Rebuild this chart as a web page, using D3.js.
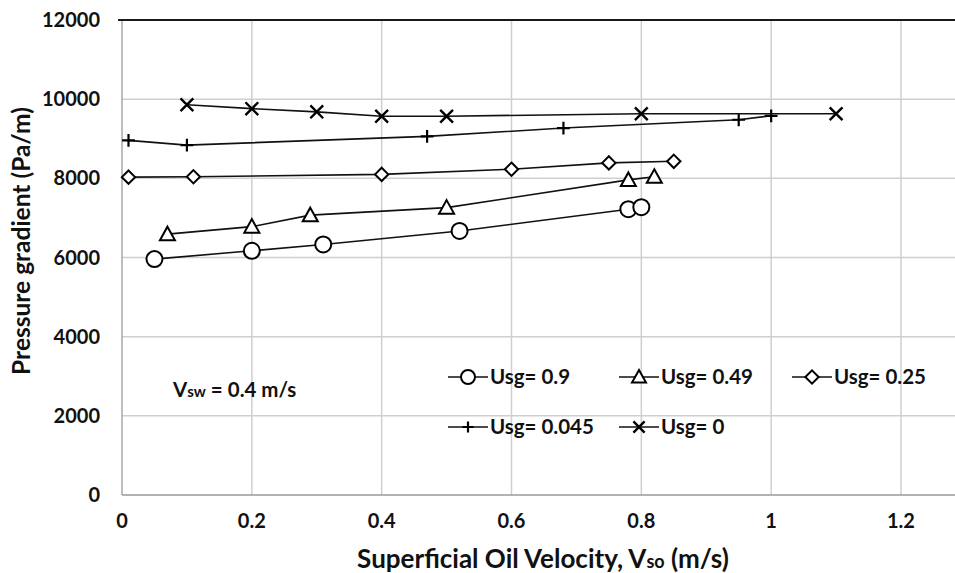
<!DOCTYPE html>
<html>
<head>
<meta charset="utf-8" />
<title>Pressure gradient vs superficial oil velocity</title>
<script src="https://cdn.jsdelivr.net/npm/d3@7"></script>
<style>
  body { margin: 0; background: #fff; }
  text { font-family: Lato, "Open Sans", sans-serif; font-weight: bold; fill: #111; }
</style>
</head>
<body>
<div id="chart"></div>
<script>
// data
var xTicks = [0, 0.2, 0.4, 0.6, 0.8, 1, 1.2];
var yTicks = [0, 2000, 4000, 6000, 8000, 10000, 12000];

var usg090 = [[0.05, 5960], [0.2, 6170], [0.31, 6330], [0.52, 6670], [0.78, 7220], [0.8, 7270]];
var usg049 = [[0.07, 6590], [0.2, 6780], [0.29, 7070], [0.5, 7260], [0.78, 7960], [0.82, 8040]];
var usg025 = [[0.01, 8030], [0.11, 8040], [0.4, 8100], [0.6, 8230], [0.75, 8390], [0.85, 8430]];
var usg0045 = [[0.01, 8960], [0.1, 8840], [0.47, 9060], [0.68, 9270], [0.95, 9480], [1.0, 9580]];
var usg0 = [[0.1, 9860], [0.2, 9760], [0.3, 9680], [0.4, 9570], [0.5, 9570], [0.8, 9630], [1.1, 9630]];

var seriesNames = ["Usg= 0.9", "Usg= 0.49", "Usg= 0.25", "Usg= 0.045", "Usg= 0"];
var seriesData = [usg090, usg049, usg025, usg0045, usg0];
var seriesMarks = ["circle", "triangle", "diamond", "plus", "cross"];

var W = 955, H = 573;

var svg = d3.select("#chart").append("svg")
    .attr("width", W)
    .attr("height", H);

var x = d3.scaleLinear().domain([0, 1.2]).range([122, 901]);
var y = d3.scaleLinear().domain([0, 12000]).range([495, 20]);

// gridlines
svg.append("g").selectAll("line")
    .data(xTicks.slice(1))
    .enter().append("line")
    .attr("x1", function (d) { return x(d); })
    .attr("x2", function (d) { return x(d); })
    .attr("y1", y(12000))
    .attr("y2", y(0))
    .attr("stroke", "#cfcfcf")
    .attr("stroke-width", 1.5);

svg.append("g").selectAll("line")
    .data(yTicks.slice(1, -1))
    .enter().append("line")
    .attr("x1", x(0))
    .attr("x2", W)
    .attr("y1", function (d) { return y(d); })
    .attr("y2", function (d) { return y(d); })
    .attr("stroke", "#cfcfcf")
    .attr("stroke-width", 1.5);

// left axis, bottom axis, dark top line
svg.append("line")
    .attr("x1", x(0)).attr("x2", x(0))
    .attr("y1", y(12000)).attr("y2", y(0))
    .attr("stroke", "#a8a8a8").attr("stroke-width", 1.5);
svg.append("line")
    .attr("x1", x(0)).attr("x2", W)
    .attr("y1", y(0)).attr("y2", y(0))
    .attr("stroke", "#9a9a9a").attr("stroke-width", 1.5);
svg.append("line")
    .attr("x1", x(0) - 4).attr("x2", W)
    .attr("y1", y(12000)).attr("y2", y(12000))
    .attr("stroke", "#1a1a1a").attr("stroke-width", 2);

// tick labels
svg.append("g").selectAll("text")
    .data(yTicks)
    .enter().append("text")
    .attr("x", 100)
    .attr("y", function (d) { return y(d) + 7; })
    .attr("text-anchor", "end")
    .style("font-size", "20px")
    .text(function (d) { return d; });

svg.append("g").selectAll("text")
    .data(xTicks)
    .enter().append("text")
    .attr("x", function (d) { return x(d); })
    .attr("y", 528)
    .attr("text-anchor", "middle")
    .style("font-size", "20px")
    .text(function (d) { return d; });

// axis titles
svg.append("text")
    .attr("transform", "translate(30,241) rotate(-90)")
    .attr("text-anchor", "middle")
    .style("font-size", "24.5px")
    .text("Pressure gradient (Pa/m)");

var xt = svg.append("text")
    .attr("x", 543)
    .attr("y", 568)
    .attr("text-anchor", "middle")
    .style("font-size", "26px");
xt.append("tspan").text("Superficial Oil Velocity, V");
xt.append("tspan").style("font-size", "18px").text("so");
xt.append("tspan").text(" (m/s)");

// markers
function drawMarker(g, kind, s) {
    var r = s / 2;
    if (kind === "circle") {
        g.append("circle").attr("r", r).attr("fill", "#fff").attr("stroke", "#000").attr("stroke-width", 2);
    } else if (kind === "triangle") {
        g.append("path")
            .attr("d", "M0," + (-r) + "L" + r + "," + (r * 0.8) + "L" + (-r) + "," + (r * 0.8) + "Z")
            .attr("fill", "#fff").attr("stroke", "#000").attr("stroke-width", 2);
    } else if (kind === "diamond") {
        var q = r * 0.95;
        g.append("path")
            .attr("d", "M0," + (-q) + "L" + q + ",0L0," + q + "L" + (-q) + ",0Z")
            .attr("fill", "#fff").attr("stroke", "#000").attr("stroke-width", 2);
    } else if (kind === "plus") {
        var p = r * 0.8;
        g.append("path")
            .attr("d", "M" + (-p) + ",0L" + p + ",0M0," + (-p) + "L0," + p)
            .attr("stroke", "#000").attr("stroke-width", 2.2);
    } else if (kind === "cross") {
        var c = r * 0.8;
        g.append("path")
            .attr("d", "M" + (-c) + "," + (-c) + "L" + c + "," + c + "M" + (-c) + "," + c + "L" + c + "," + (-c))
            .attr("stroke", "#000").attr("stroke-width", 2.4);
    }
}

var markSize = { circle: 16, triangle: 15, diamond: 14, plus: 16, cross: 16 };

var line = d3.line()
    .x(function (d) { return x(d[0]); })
    .y(function (d) { return y(d[1]); });

seriesData.forEach(function (data, i) {
    var kind = seriesMarks[i];
    svg.append("path")
        .datum(data)
        .attr("d", line)
        .attr("fill", "none")
        .attr("stroke", "#111")
        .attr("stroke-width", 1.6);
    svg.append("g").selectAll("g")
        .data(data)
        .enter().append("g")
        .attr("transform", function (d) { return "translate(" + x(d[0]) + "," + y(d[1]) + ")"; })
        .each(function () { drawMarker(d3.select(this), kind, markSize[kind]); });
});

// legend
var legendPos = [[448, 377], [619, 377], [792, 377], [448, 427], [619, 427]];
seriesNames.forEach(function (name, i) {
    var g = svg.append("g").attr("transform", "translate(" + legendPos[i][0] + "," + legendPos[i][1] + ")");
    g.append("line").attr("x1", 0).attr("x2", 40).attr("y1", 0).attr("y2", 0)
        .attr("stroke", "#111").attr("stroke-width", 1.6);
    var m = g.append("g").attr("transform", "translate(20,0)");
    drawMarker(m, seriesMarks[i], 14);
    g.append("text")
        .attr("x", 42)
        .attr("y", 7)
        .style("font-size", "20.5px")
        .text(name);
});

// annotation
var ann = svg.append("text")
    .attr("x", 173)
    .attr("y", 397)
    .style("font-size", "20.5px");
ann.append("tspan").text("V");
ann.append("tspan").style("font-size", "15px").text("sw");
ann.append("tspan").text(" = 0.4 m/s");
</script>
</body>
</html>
